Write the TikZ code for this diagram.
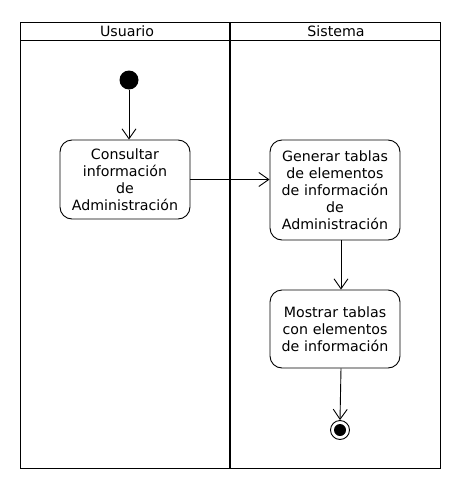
\documentclass[tikz,border=0pt]{standalone}
\usepackage{fontspec}
\setmainfont{DejaVu Sans}
\usetikzlibrary{arrows.meta}
\begin{document}
\begin{tikzpicture}[x=1pt,y=-1pt,
  every node/.style={font=\fontsize{14.2}{17}\selectfont},
  act/.style={draw,rounded corners=12pt,line width=0.9pt,minimum width=130pt,text width=126pt,align=center,inner sep=2pt},
  flow/.style={line width=0.9pt,-{Straight Barb[length=10pt,width=14pt]}},
  lane/.style={line width=0.9pt}]
\useasboundingbox (0,0) rectangle (460,490);
% swimlanes
\draw[lane] (20,22) rectangle (440,468);
\draw[lane] (20,40) -- (440,40);
\draw[line width=2pt] (230,22) -- (230,468);
\node (usr) at (127,31.5) {Usuario};
\node (sys) at (336,31.5) {Sistema};
% nodes
\node[circle,fill=black,minimum size=19pt,inner sep=0pt] (start) at (129,80) {};
\node[act,minimum height=79pt] (a1) at (125,179.5) {Consultar\\información\\de\\Administración};
\node[act,minimum height=100pt] (a2) at (335,190) {Generar tablas\\de elementos\\de información\\de\\Administración};
\node[act,minimum height=78pt] (a3) at (335,329) {Mostrar tablas\\con elementos\\de información};
\node[circle,draw,line width=0.9pt,minimum size=19pt,inner sep=0pt] (end) at (340,430) {};
\node[circle,fill=black,minimum size=12pt,inner sep=0pt] at (end) {};
% flows
\draw[flow] (start) -- (start |- a1.north);
\draw[flow] (a1.east) -- (a2.west |- a1.east);
\draw[flow] (a2.south -| 341,0) -- (a3.north -| 341,0);
\draw[flow] (a3.south -| 341,0) -- (end.north);
\end{tikzpicture}
\end{document}
